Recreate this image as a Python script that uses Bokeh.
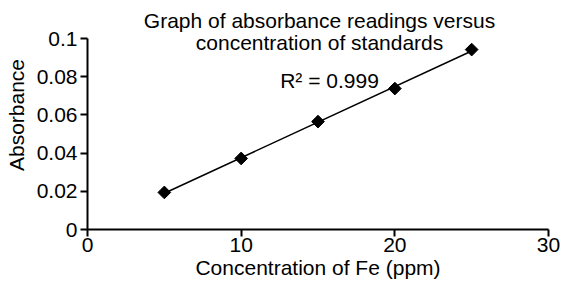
import numpy as np
from bokeh.plotting import figure
from bokeh.models import Range1d, FixedTicker, Label, ColumnDataSource
from bokeh.embed import file_html
from bokeh.resources import INLINE

# Data
concentration = [5, 10, 15, 20, 25]
absorbance = [0.0194, 0.0372, 0.0565, 0.0738, 0.0942]
x_ticks = [0, 10, 20, 30]
y_ticks = [0, 0.02, 0.04, 0.06, 0.08, 0.1]
y_tick_labels = {0: "0", 0.02: "0.02", 0.04: "0.04", 0.06: "0.06", 0.08: "0.08", 0.1: "0.1"}
title_lines = ["Graph of absorbance readings versus", "concentration of standards"]
r2_text = "R\u00b2 = 0.999"
x_label = "Concentration of Fe (ppm)"
y_label = "Absorbance"

FONT = "Liberation Sans"
FS = "21px"

# frame reaches the top of the canvas so the title text (drawn as labels) is not clipped;
# the y axis itself is bounded to 0..0.1
p = figure(width=563, height=289, output_backend="svg", toolbar_location=None,
           x_range=Range1d(0, 30), y_range=Range1d(0, 0.1199),
           min_border_left=87, min_border_right=15, min_border_top=0, min_border_bottom=60)
p.outline_line_color = None
p.xgrid.visible = False
p.ygrid.visible = False
p.background_fill_color = "white"
p.border_fill_color = "white"

for ax in (p.xaxis, p.yaxis):
    ax.axis_line_width = 2
    ax.axis_line_color = "black"
    ax.major_tick_line_width = 2
    ax.major_tick_line_color = "black"
    ax.major_tick_in = 0
    ax.major_tick_out = 7
    ax.minor_tick_line_color = None
    ax.major_label_text_font = FONT
    ax.major_label_text_font_size = FS
    ax.major_label_text_color = "black"
    ax.axis_label_text_font = FONT
    ax.axis_label_text_font_size = FS
    ax.axis_label_text_font_style = "normal"
    ax.axis_label_text_color = "black"

p.yaxis.bounds = (0, 0.1)
p.xaxis.ticker = FixedTicker(ticks=x_ticks)
p.yaxis.ticker = FixedTicker(ticks=y_ticks)
p.yaxis.major_label_overrides = y_tick_labels
p.xaxis.axis_label = x_label
p.yaxis.axis_label = y_label
p.xaxis.major_label_standoff = 1
p.xaxis.axis_label_standoff = 1
p.yaxis.major_label_standoff = 3
p.yaxis.axis_label_standoff = 6

# trendline (least-squares fit of the data)
slope, intercept = np.polyfit(concentration, absorbance, 1)
fit_x = [min(concentration), max(concentration)]
fit_y = [slope * v + intercept for v in fit_x]
p.line(fit_x, fit_y, line_color="black", line_width=1.5)

src = ColumnDataSource(dict(x=concentration, y=absorbance))
p.scatter("x", "y", source=src, marker="square", angle=np.pi / 4, size=9,
          fill_color="black", line_color="black")

# Title lines and R² label
p.add_layout(Label(x=15.1, y=0.1094, text=title_lines[0], text_font=FONT,
                   text_font_size=FS, text_align="center", text_baseline="middle",
                   text_color="black"))
p.add_layout(Label(x=15.1, y=0.0979, text=title_lines[1], text_font=FONT,
                   text_font_size=FS, text_align="center", text_baseline="middle",
                   text_color="black"))
p.add_layout(Label(x=15.75, y=0.0780, text=r2_text, text_font=FONT,
                   text_font_size=FS, text_align="center", text_baseline="middle",
                   text_color="black"))

open("out.html", "w").write(file_html(p, INLINE))
